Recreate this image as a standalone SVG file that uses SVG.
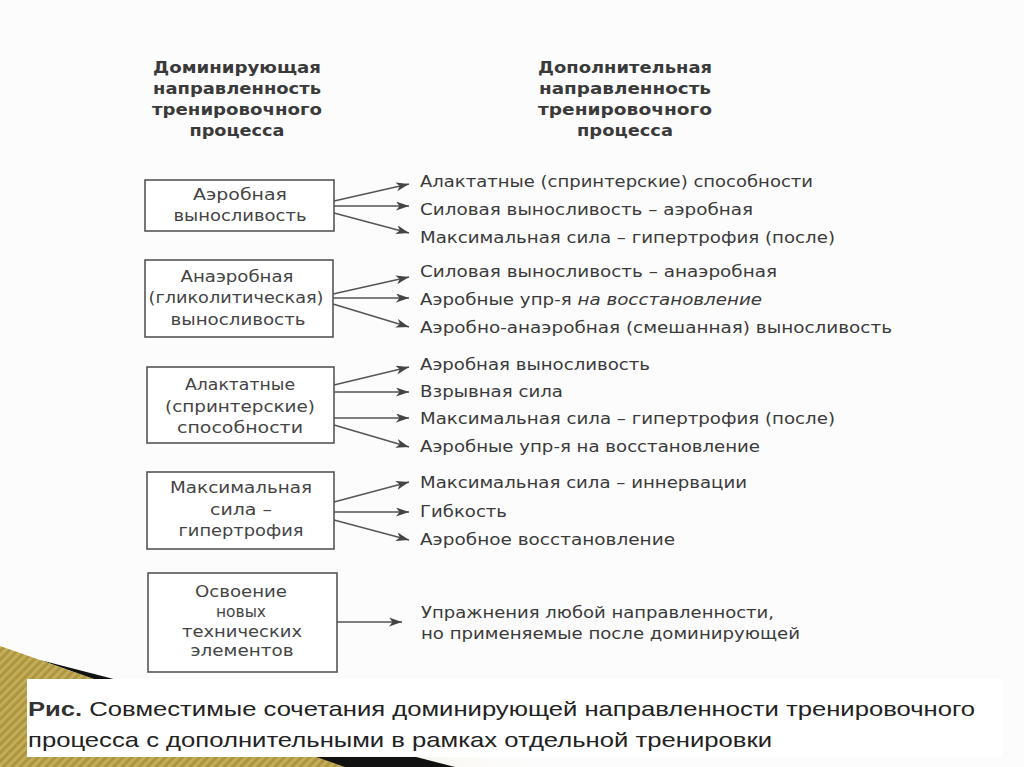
<svg xmlns="http://www.w3.org/2000/svg" width="1024" height="767" viewBox="0 0 1024 767">
<style>
.hd{font-family:"DejaVu Sans","Liberation Sans",sans-serif;font-weight:bold;font-size:15.5px;fill:#3a3a3a;text-anchor:middle}
.bx{fill:#fff;stroke:#555;stroke-width:1.6}
.bt{font-family:"DejaVu Sans","Liberation Sans",sans-serif;font-size:16.5px;fill:#444;text-anchor:middle}
.rt{font-family:"DejaVu Sans","Liberation Sans",sans-serif;font-size:16.5px;fill:#3a3a3a}
.cap{font-family:"Liberation Sans",Arial,sans-serif;font-size:21px;fill:#222}
.ar{stroke:#555;stroke-width:1.5;fill:none;marker-end:url(#ah)}
</style>
<defs>
<marker id="ah" markerUnits="userSpaceOnUse" markerWidth="14" markerHeight="10" refX="13" refY="4.5" orient="auto">
<path d="M0,0 L13,4.5 L0,9 L3.5,4.5 Z" fill="#444"/>
</marker>
<pattern id="gold" patternUnits="userSpaceOnUse" width="6" height="6" patternTransform="rotate(45)">
<rect width="6" height="6" fill="#ad963f"/>
<rect width="3" height="6" fill="#c4ad58"/>
</pattern>
<linearGradient id="beige" x1="0" y1="0" x2="1" y2="0">
<stop offset="0" stop-color="#e6dcb8"/>
<stop offset="1" stop-color="#ffffff" stop-opacity="0"/>
</linearGradient>
</defs>
<rect width="1024" height="767" fill="#fcfcfc"/>

<g id="decor">
<polygon points="200,735 590,767 450,767" fill="url(#beige)"/>
<polygon points="40,660 455,767 340,767" fill="#111"/>
<polygon points="0,646 345,767 0,767" fill="url(#gold)"/>
</g>

<g id="header-left">
<text class="hd" x="237" y="73" textLength="168" lengthAdjust="spacingAndGlyphs">Доминирующая</text>
<text class="hd" x="237" y="94" textLength="168" lengthAdjust="spacingAndGlyphs">направленность</text>
<text class="hd" x="237" y="115" textLength="170" lengthAdjust="spacingAndGlyphs">тренировочного</text>
<text class="hd" x="237" y="136" textLength="95" lengthAdjust="spacingAndGlyphs">процесса</text>
</g>
<g id="header-right">
<text class="hd" x="625" y="73" textLength="174" lengthAdjust="spacingAndGlyphs">Дополнительная</text>
<text class="hd" x="625" y="94" textLength="172" lengthAdjust="spacingAndGlyphs">направленность</text>
<text class="hd" x="625" y="115" textLength="174" lengthAdjust="spacingAndGlyphs">тренировочного</text>
<text class="hd" x="625" y="136" textLength="96" lengthAdjust="spacingAndGlyphs">процесса</text>
</g>

<g id="node-aerob">
<rect class="bx" x="145" y="180" width="189" height="51"/>
<text class="bt" x="240" y="200" textLength="94" lengthAdjust="spacingAndGlyphs">Аэробная</text>
<text class="bt" x="240" y="221" textLength="133" lengthAdjust="spacingAndGlyphs">выносливость</text>
</g>
<g id="node-anaerob">
<rect class="bx" x="145" y="260" width="188" height="77"/>
<text class="bt" x="237" y="282" textLength="113" lengthAdjust="spacingAndGlyphs">Анаэробная</text>
<text class="bt" x="236" y="303" textLength="175" lengthAdjust="spacingAndGlyphs">(гликолитическая)</text>
<text class="bt" x="238" y="325" textLength="135" lengthAdjust="spacingAndGlyphs">выносливость</text>
</g>
<g id="node-alact">
<rect class="bx" x="147" y="367" width="187" height="76"/>
<text class="bt" x="240" y="390" textLength="110" lengthAdjust="spacingAndGlyphs">Алактатные</text>
<text class="bt" x="240" y="412" textLength="150" lengthAdjust="spacingAndGlyphs">(спринтерские)</text>
<text class="bt" x="240" y="433" textLength="126" lengthAdjust="spacingAndGlyphs">способности</text>
</g>
<g id="node-maxsila">
<rect class="bx" x="147" y="472" width="187" height="77"/>
<text class="bt" x="241" y="493" textLength="142" lengthAdjust="spacingAndGlyphs">Максимальная</text>
<text class="bt" x="241" y="515" textLength="62" lengthAdjust="spacingAndGlyphs">сила –</text>
<text class="bt" x="241" y="536" textLength="125" lengthAdjust="spacingAndGlyphs">гипертрофия</text>
</g>
<g id="node-tech">
<rect class="bx" x="148" y="573" width="189" height="99"/>
<text class="bt" x="241" y="597" textLength="92" lengthAdjust="spacingAndGlyphs">Освоение</text>
<text class="bt" x="241" y="617" textLength="50" lengthAdjust="spacingAndGlyphs">новых</text>
<text class="bt" x="242" y="637" textLength="120" lengthAdjust="spacingAndGlyphs">технических</text>
<text class="bt" x="242" y="656" textLength="103" lengthAdjust="spacingAndGlyphs">элементов</text>
</g>

<g id="connectors">
<line class="ar" x1="334" y1="201" x2="409" y2="184"/>
<line class="ar" x1="334" y1="206" x2="409" y2="206"/>
<line class="ar" x1="334" y1="213" x2="409" y2="233"/>
<line class="ar" x1="333" y1="294" x2="409" y2="277"/>
<line class="ar" x1="333" y1="298" x2="409" y2="298"/>
<line class="ar" x1="333" y1="304" x2="409" y2="327"/>
<line class="ar" x1="334" y1="385" x2="409" y2="367"/>
<line class="ar" x1="334" y1="392" x2="409" y2="392"/>
<line class="ar" x1="334" y1="418" x2="409" y2="418"/>
<line class="ar" x1="334" y1="425" x2="409" y2="447"/>
<line class="ar" x1="334" y1="502" x2="409" y2="482"/>
<line class="ar" x1="334" y1="512" x2="409" y2="512"/>
<line class="ar" x1="334" y1="520" x2="409" y2="540"/>
<line class="ar" x1="337" y1="622" x2="402" y2="622"/>
</g>

<g id="targets">
<text class="rt" x="420" y="187" textLength="393" lengthAdjust="spacingAndGlyphs">Алактатные (спринтерские) способности</text>
<text class="rt" x="420" y="215" textLength="333" lengthAdjust="spacingAndGlyphs">Силовая выносливость – аэробная</text>
<text class="rt" x="420" y="243" textLength="415" lengthAdjust="spacingAndGlyphs">Максимальная сила – гипертрофия (после)</text>
<text class="rt" x="420" y="277" textLength="357" lengthAdjust="spacingAndGlyphs">Силовая выносливость – анаэробная</text>
<text class="rt" x="420" y="305" textLength="342" lengthAdjust="spacingAndGlyphs">Аэробные упр-я <tspan font-style="italic">на восстановление</tspan></text>
<text class="rt" x="420" y="333" textLength="472" lengthAdjust="spacingAndGlyphs">Аэробно-анаэробная (смешанная) выносливость</text>
<text class="rt" x="420" y="370" textLength="230" lengthAdjust="spacingAndGlyphs">Аэробная выносливость</text>
<text class="rt" x="420" y="397" textLength="143" lengthAdjust="spacingAndGlyphs">Взрывная сила</text>
<text class="rt" x="420" y="424" textLength="415" lengthAdjust="spacingAndGlyphs">Максимальная сила – гипертрофия (после)</text>
<text class="rt" x="420" y="452" textLength="340" lengthAdjust="spacingAndGlyphs">Аэробные упр-я на восстановление</text>
<text class="rt" x="420" y="488" textLength="327" lengthAdjust="spacingAndGlyphs">Максимальная сила – иннервации</text>
<text class="rt" x="420" y="517" textLength="87" lengthAdjust="spacingAndGlyphs">Гибкость</text>
<text class="rt" x="420" y="545" textLength="255" lengthAdjust="spacingAndGlyphs">Аэробное восстановление</text>
<text class="rt" x="421" y="618" textLength="353" lengthAdjust="spacingAndGlyphs">Упражнения любой направленности,</text>
<text class="rt" x="421" y="639" textLength="379" lengthAdjust="spacingAndGlyphs">но применяемые после доминирующей</text>
</g>

<g id="caption">
<rect x="27" y="679" width="975" height="78" fill="#fff"/>
<text class="cap" x="28" y="716" textLength="947" lengthAdjust="spacingAndGlyphs"><tspan font-weight="bold" fill="#333">Рис.</tspan> Совместимые сочетания доминирующей направленности тренировочного</text>
<text class="cap" x="28" y="747" textLength="744" lengthAdjust="spacingAndGlyphs">процесса с дополнительными в рамках отдельной тренировки</text>
</g>
</svg>
